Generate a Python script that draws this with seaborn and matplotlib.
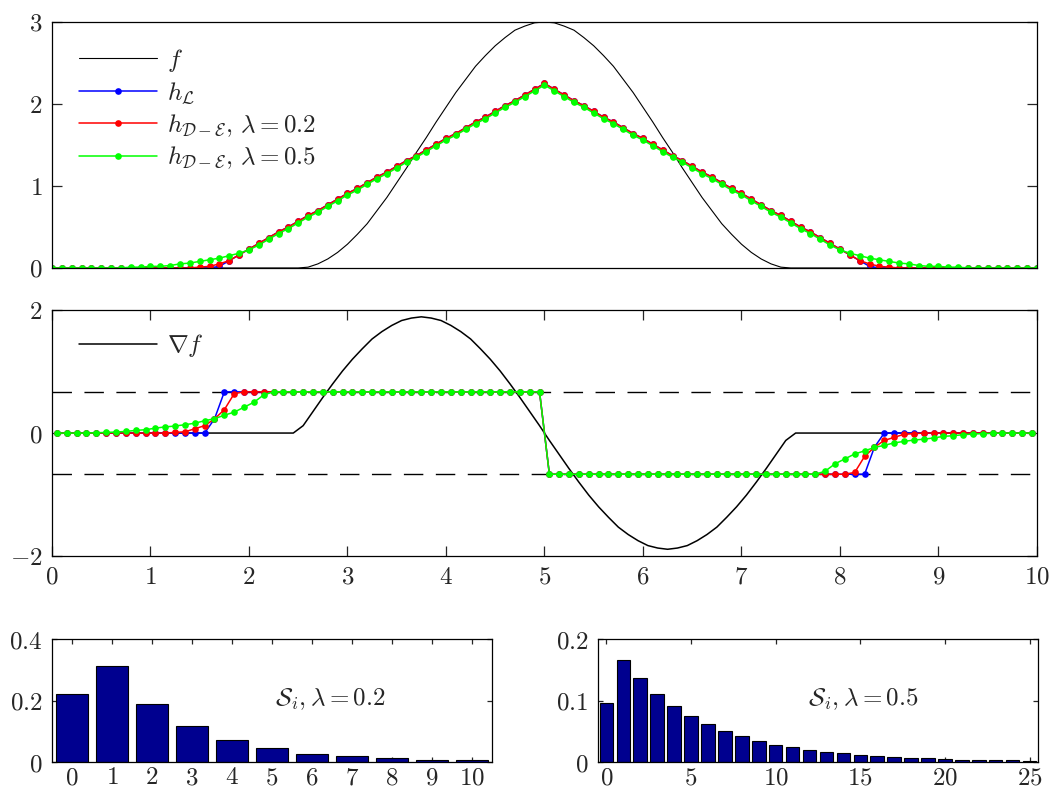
import numpy as np
import matplotlib
matplotlib.use("Agg")
import matplotlib.pyplot as plt
import seaborn as sns

# grid nodes (h, f) and cell midpoints (gradients)
x_nodes = np.round(np.arange(0, 101) * 0.1, 2)
x_mid = np.round(np.arange(0, 100) * 0.1 + 0.05, 2)

# f sampled at nodes (0 outside [2.5, 7.5])
f_vals = ([0.0] * 26 +
          [0.01, 0.05, 0.11, 0.19, 0.29, 0.41, 0.54, 0.70, 0.86, 1.04, 1.22, 1.41, 1.59,
           1.78, 1.96, 2.14, 2.30, 2.46, 2.59, 2.71, 2.81, 2.90, 2.95, 2.99, 3.00,
           2.99, 2.95, 2.90, 2.81, 2.71, 2.59, 2.46, 2.30, 2.14, 1.96, 1.78, 1.59,
           1.41, 1.22, 1.04, 0.86, 0.70, 0.54, 0.41, 0.29, 0.19, 0.11, 0.05, 0.01] +
          [0.0] * 26)

h_L = ([0.0] * 17 +
       [0.02, 0.09, 0.16, 0.23, 0.30, 0.37, 0.44, 0.50, 0.57, 0.64, 0.70, 0.77, 0.84,
        0.91, 0.97, 1.04, 1.11, 1.17, 1.24, 1.31, 1.37, 1.44, 1.51, 1.58, 1.64, 1.71,
        1.78, 1.84, 1.91, 1.98, 2.04, 2.11, 2.18, 2.25,
        2.18, 2.11, 2.04, 1.98, 1.91, 1.84, 1.78, 1.71, 1.64, 1.58, 1.51, 1.44, 1.37,
        1.31, 1.24, 1.17, 1.11, 1.04, 0.97, 0.91, 0.84, 0.77, 0.70, 0.64, 0.57, 0.50,
        0.44, 0.37, 0.30, 0.23, 0.16, 0.09, 0.02] +
       [0.0] * 17)

h_DE_02 = ([0.0] * 13 +
           [0.00, 0.00, 0.01, 0.02, 0.05, 0.09, 0.16, 0.23,
            0.30, 0.37, 0.44, 0.50, 0.57, 0.64, 0.70, 0.77, 0.84, 0.91, 0.97, 1.04, 1.11,
            1.17, 1.24, 1.31, 1.37, 1.44, 1.51, 1.58, 1.64, 1.71, 1.78, 1.84, 1.91, 1.98,
            2.04, 2.11, 2.18, 2.25,
            2.18, 2.11, 2.04, 1.98, 1.91, 1.84, 1.78, 1.71, 1.64, 1.58, 1.51, 1.44, 1.37,
            1.31, 1.24, 1.17, 1.11, 1.04, 0.97, 0.91, 0.84, 0.77, 0.70, 0.64, 0.57, 0.50,
            0.44, 0.37, 0.30,
            0.23, 0.16, 0.09, 0.05, 0.02, 0.01, 0.00, 0.00] +
           [0.0] * 13)

h_DE_05 = ([0.0] * 5 +
           [0.00, 0.00, 0.00, 0.01, 0.01, 0.02, 0.02, 0.03, 0.05, 0.06, 0.08, 0.10, 0.12,
            0.15, 0.18, 0.22, 0.28, 0.35,
            0.42, 0.48, 0.55, 0.62, 0.68, 0.75, 0.82, 0.89, 0.95, 1.02, 1.09, 1.15, 1.22,
            1.29, 1.35, 1.42, 1.49, 1.56, 1.62, 1.69, 1.76, 1.82, 1.89, 1.96, 2.02, 2.09,
            2.16, 2.23,
            2.16, 2.09, 2.02, 1.96, 1.89, 1.82, 1.76, 1.69, 1.62, 1.56, 1.49, 1.42, 1.35,
            1.29, 1.22, 1.15, 1.09, 1.02, 0.95, 0.89, 0.82, 0.75, 0.68, 0.62, 0.55, 0.48,
            0.42,
            0.35, 0.28, 0.22, 0.18, 0.15, 0.12, 0.10, 0.08, 0.06, 0.05, 0.03, 0.02, 0.02,
            0.01, 0.01, 0.00, 0.00, 0.00] +
           [0.0] * 5)

# gradients at midpoints
grad_f = ([0.0] * 25 +
          [0.12, 0.35, 0.58, 0.80, 1.01, 1.20, 1.37, 1.53, 1.65, 1.75, 1.83, 1.87, 1.89,
           1.87, 1.83, 1.75, 1.65, 1.53, 1.37, 1.20, 1.01, 0.80, 0.58, 0.35, 0.12,
           -0.12, -0.35, -0.58, -0.80, -1.01, -1.20, -1.37, -1.53, -1.65, -1.75, -1.83,
           -1.87, -1.89, -1.87, -1.83, -1.75, -1.65, -1.53, -1.37, -1.20, -1.01, -0.80,
           -0.58, -0.35, -0.12] +
          [0.0] * 25)

grad_L = [0.0] * 16 + [0.23] + [0.67] * 33 + [-0.67] * 33 + [-0.23] + [0.0] * 16

grad_DE_02 = ([0.0] * 12 + [0.01, 0.02, 0.07, 0.12, 0.23, 0.38, 0.64] + [0.67] * 31 +
              [-0.67] * 31 + [-0.64, -0.38, -0.23, -0.12, -0.07, -0.02, -0.01] + [0.0] * 12)

grad_DE_05 = ([0.0] * 4 +
              [0.005, 0.01, 0.016, 0.027, 0.043, 0.054, 0.08, 0.10, 0.114, 0.136, 0.16,
               0.20, 0.234, 0.29, 0.34, 0.42, 0.50, 0.62] +
              [0.67] * 28 + [-0.67] * 28 +
              [-0.62, -0.50, -0.42, -0.34, -0.29, -0.234, -0.20, -0.16, -0.136, -0.114,
               -0.10, -0.08, -0.054, -0.043, -0.027, -0.016, -0.01, -0.005] +
              [0.0] * 4)

threshold = 0.67

S_02 = [0.222, 0.311, 0.189, 0.116, 0.071, 0.045, 0.027, 0.018, 0.012, 0.008, 0.005]
S_05 = [0.096, 0.166, 0.136, 0.111, 0.091, 0.075, 0.062, 0.050, 0.042, 0.034, 0.028,
        0.024, 0.019, 0.016, 0.014, 0.011, 0.0097, 0.008, 0.007, 0.006, 0.005, 0.004,
        0.0035, 0.003, 0.0025, 0.002]

sns.set_theme(style="ticks")
plt.rcParams.update({
    "font.family": ["DejaVu Serif"],
    "mathtext.fontset": "cm",
    "xtick.direction": "in",
    "ytick.direction": "in",
    "xtick.top": True,
    "ytick.right": True,
    "axes.linewidth": 0.9,
    "xtick.major.width": 0.9,
    "ytick.major.width": 0.9,
    "axes.edgecolor": "black",
})

FS = 18
BLUE, RED, GREEN = (0, 0, 1), (1, 0, 0), (0, 1, 0)
BAR = (0, 0, 0.56)

fig = plt.figure(figsize=(10.52, 7.94), dpi=100)
ax1 = fig.add_axes([0.0494, 0.6625, 0.9363, 0.3098])
ax2 = fig.add_axes([0.0494, 0.2997, 0.9363, 0.3098])
ax3 = fig.add_axes([0.0494, 0.0403, 0.4183, 0.1549])
ax4 = fig.add_axes([0.5684, 0.0403, 0.4183, 0.1549])

def mlabels(vals):
    return ["${:g}$".format(v) for v in vals]

line_kw = dict(marker="o", markersize=4.8, markeredgewidth=0, linewidth=1.1)
leg_kw = dict(loc="upper left", frameon=False, fontsize=FS, handlelength=3.1,
              handletextpad=0.4, borderaxespad=0.3)

# top panel
sns.lineplot(x=x_nodes, y=f_vals, ax=ax1, color="black", linewidth=0.8, label="$f$")
for vals, col, lab in [(h_L, BLUE, r"$h_{\mathcal{L}}$"),
                       (h_DE_02, RED, r"$h_{\mathcal{D}-\mathcal{E}},\, \lambda = 0.2$"),
                       (h_DE_05, GREEN, r"$h_{\mathcal{D}-\mathcal{E}},\, \lambda = 0.5$")]:
    sns.lineplot(x=x_nodes, y=vals, ax=ax1, color=col, markeredgecolor=col, label=lab, **line_kw)
ax1.set_xlim(0, 10)
ax1.set_ylim(0, 3)
ax1.set_xticks([])
ax1.set_yticks([0, 1, 2, 3], mlabels([0, 1, 2, 3]))
ax1.tick_params(axis="y", length=7, labelsize=FS, pad=7)
ax1.legend(labelspacing=0.25, bbox_to_anchor=(0.01, 0.97), **leg_kw)

# middle panel
sns.lineplot(x=x_mid, y=grad_f, ax=ax2, color="black", linewidth=1.1, label=r"$\nabla f$")
ax2.axhline(threshold, color="black", linewidth=1.0, dashes=(14, 9))
ax2.axhline(-threshold, color="black", linewidth=1.0, dashes=(14, 9))
for vals, col in [(grad_L, BLUE), (grad_DE_02, RED), (grad_DE_05, GREEN)]:
    sns.lineplot(x=x_mid, y=vals, ax=ax2, color=col, markeredgecolor=col, **line_kw)
ax2.set_xlim(0, 10)
ax2.set_ylim(-2, 2)
ax2.set_xticks(range(11), mlabels(range(11)))
ax2.set_yticks([-2, 0, 2], ["$-2$", "$0$", "$2$"])
ax2.tick_params(length=7, labelsize=FS, pad=7)
ax2.legend(bbox_to_anchor=(0.01, 0.98), **leg_kw)

# bottom histograms
sns.barplot(x=list(range(len(S_02))), y=S_02, ax=ax3, color=BAR, saturation=1,
            edgecolor="black", linewidth=0.8, width=0.8)
ax3.set_xlim(-0.5, 10.5)
ax3.set_ylim(0, 0.4)
ax3.set_xticks(range(11), mlabels(range(11)))
ax3.set_yticks([0, 0.2, 0.4], mlabels([0, 0.2, 0.4]))
ax3.tick_params(length=3.3, labelsize=FS, pad=7)
ax3.tick_params(axis="x", pad=3)
ax3.text(6.47, 0.204, r"$\mathcal{S}_i, \lambda = 0.2$", fontsize=FS, ha="center", va="center")

sns.barplot(x=list(range(len(S_05))), y=S_05, ax=ax4, color=BAR, saturation=1,
            edgecolor="black", linewidth=0.8, width=0.8)
ax4.set_xlim(-0.5, 25.5)
ax4.set_ylim(0, 0.2)
ax4.set_xticks(range(0, 26, 5), mlabels(range(0, 26, 5)))
ax4.set_yticks([0, 0.1, 0.2], mlabels([0, 0.1, 0.2]))
ax4.tick_params(length=3.3, labelsize=FS, pad=7)
ax4.tick_params(axis="x", pad=3)
ax4.text(15.2, 0.102, r"$\mathcal{S}_i, \lambda = 0.5$", fontsize=FS, ha="center", va="center")

for ax in (ax1, ax2, ax3, ax4):
    ax.set_xlabel("")
    ax.set_ylabel("")
    for s in ax.spines.values():
        s.set_visible(True)
        s.set_color("black")

fig.savefig("out.png", dpi=100)
